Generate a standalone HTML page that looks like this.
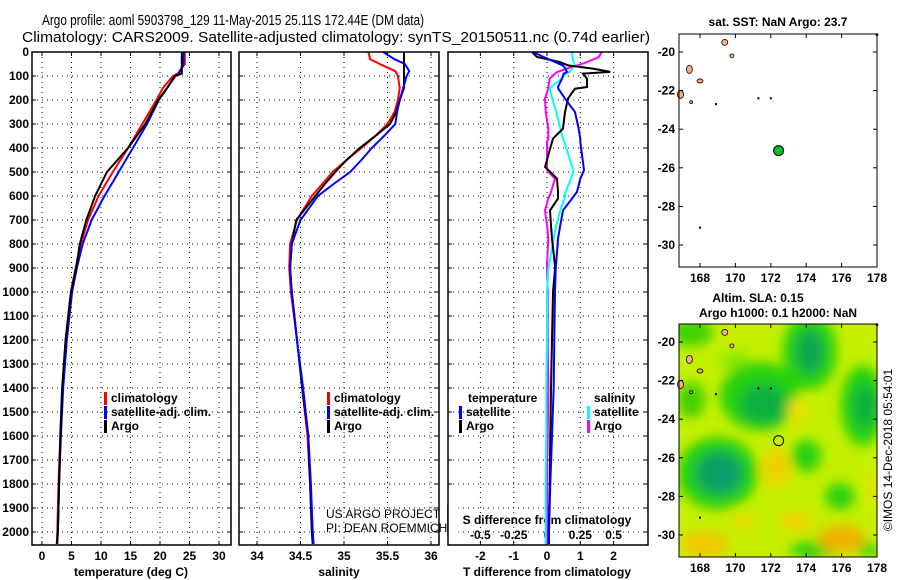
<!DOCTYPE html>
<html><head><meta charset="utf-8"><style>
body{margin:0;background:#fff;}
svg{display:block;font-family:"Liberation Sans",Arial,sans-serif;}
.b{font-weight:bold;font-size:12px;}
</style></head><body>
<svg id="c" width="900" height="580" viewBox="0 0 900 580" xmlns="http://www.w3.org/2000/svg">
<defs>
<filter id="blur" x="-50%" y="-50%" width="200%" height="200%"><feGaussianBlur stdDeviation="6"/></filter>
<clipPath id="mapclip"><rect x="679" y="324" width="198" height="233"/></clipPath>
</defs>
<text x="233" y="25" font-size="15" text-anchor="middle" textLength="382" lengthAdjust="spacingAndGlyphs">Argo profile: aoml 5903798_129 11-May-2015 25.11S 172.44E (DM data)</text>
<text x="336" y="42" font-size="15" text-anchor="middle" textLength="628" lengthAdjust="spacingAndGlyphs">Climatology: CARS2009. Satellite-adjusted climatology: synTS_20150511.nc (0.74d earlier)</text>
<g id="g"></g>
</svg>
<script>
// ---- data ----
const depthsT = [0,50,90,100,150,200,300,400,500,600,700,800,900,1000,1200,1400,1600,1800,2000,2050];
const tempArgo = [23.7,23.7,23.7,22.5,21.2,19.7,17.5,14.6,11.0,9.0,7.5,6.4,5.8,4.9,4.0,3.4,3.1,2.9,2.7,2.5];
const tempClim = [24.2,24.2,23.0,22.2,20.5,19.4,17.0,14.6,12.0,9.6,7.8,6.6,5.7,4.9,4.0,3.5,3.1,2.8,2.6,2.5];
const tempSat  = [24.0,24.0,23.2,22.6,21.2,19.8,17.8,15.4,13.0,10.6,8.4,6.9,5.9,5.1,4.2,3.6,3.2,2.9,2.7,2.6];
const depthsS = [0,30,50,80,100,150,200,250,300,350,400,450,500,550,600,700,800,900,1000,1200,1400,1600,1800,2000,2050];
const salArgo = [35.69,35.69,35.69,35.69,35.69,35.69,35.64,35.60,35.53,35.36,35.18,35.03,34.90,34.78,34.67,34.45,34.40,34.38,34.40,34.46,34.52,34.59,34.61,34.63,34.64];
const salClim = [35.28,35.30,35.41,35.59,35.62,35.64,35.62,35.58,35.50,35.36,35.20,35.03,34.87,34.75,34.63,34.46,34.38,34.37,34.39,34.46,34.52,34.58,34.61,34.64,34.65];
const salSat  = [35.45,35.58,35.70,35.75,35.72,35.68,35.64,35.61,35.59,35.46,35.32,35.20,35.07,34.88,34.70,34.50,34.40,34.38,34.40,34.46,34.53,34.59,34.62,34.64,34.65];
const depthsD = [0,21,42,56,69,83,90,111,146,153,194,250,319,361,375,479,493,528,583,611,660,722,778,889,903,1000,1200,1400,1600,1800,2000,2050];
const dTArgo = [-0.45,-0.30,0.39,0.63,1.38,1.90,1.08,1.20,1.20,0.84,0.63,0.54,0.48,0.18,0.15,-0.06,0.05,0.30,0.33,0.33,0.09,0.12,0.15,0.24,0.24,0.18,0.15,0.12,0.10,0.08,0.05,0.05];
const dTSat  = [-0.42,-0.10,0.24,0.48,0.55,0.60,0.50,0.45,0.33,0.34,0.54,0.84,0.95,1.00,1.00,1.10,1.11,1.00,0.90,0.75,0.48,0.40,0.33,0.27,0.26,0.24,0.22,0.20,0.15,0.10,0.06,0.06];
const dSSat  = [0.19,0.19,0.20,0.21,0.19,0.17,0.14,0.11,0.03,0.02,0.04,0.07,0.10,0.12,0.13,0.19,0.20,0.18,0.14,0.13,0.10,0.07,0.05,0.015,0.01,0.0,0.0,-0.005,-0.005,-0.01,-0.01,-0.01];
const dSArgo = [0.41,0.39,0.30,0.23,0.15,0.08,0.06,0.02,0.01,0.01,-0.015,-0.01,0.01,0.01,0.0,0.0,0.0,0.06,0.03,0.01,-0.015,0.0,0.01,0.0,0.0,0.005,0.005,0.01,0.005,0.0,0.0,0.0];
const depthTicks = [0,100,200,300,400,500,600,700,800,900,1000,1100,1200,1300,1400,1500,1600,1700,1800,1900,2000];
const tTicks = [0,5,10,15,20,25,30];
const sTicks = [34,34.5,35,35.5,36];
const dTTicks = [-2,-1,0,1,2];
const dSTicks = ["-0.5","-0.25","0","0.25","0.5"];
const mapLonTicks = [168,170,172,174,176,178];
const mapLatTicks = [-20,-22,-24,-26,-28,-30];
const floatLon = 172.44, floatLat = -25.11;

// ---- helpers ----
const NS="http://www.w3.org/2000/svg";
const G=document.getElementById('g');
function mk(tag,attrs,parent){const e=document.createElementNS(NS,tag);for(const k in attrs)e.setAttribute(k,attrs[k]);(parent||G).appendChild(e);return e;}
function txt(x,y,s,attrs){const e=mk('text',Object.assign({x:x,y:y},attrs||{}));e.textContent=s;return e;}
const pTop=52, pBot=545;
const yD=d=>pTop+d*0.24;
const xT=t=>42+t*5.9;
const xS=s=>257+(s-34)*87;
const xDT=v=>547+v*33.3;
const xDS=v=>547+v*133.2;
const panels=[{x0:32,x1:231,xs:tTicks.map(xT)},{x0:239,x1:439,xs:sTicks.map(xS)},{x0:448,x1:648,xs:dTTicks.map(xDT)}];
const pnames=['temperature-panel','salinity-panel','difference-panel'];
panels.forEach((p,i)=>{
  const g=mk('g',{});
  
  
  mk('rect',{x:p.x0,y:pTop,width:p.x1-p.x0,height:pBot-pTop,fill:'#fff',stroke:'none'},g);
  depthTicks.forEach(d=>{const l=mk('line',{x1:p.x0,x2:p.x1,y1:yD(d),y2:yD(d),stroke:'#000','stroke-width':1,'stroke-dasharray':'1 4'},g);
    
    mk('line',{x1:p.x0,x2:p.x0+4,y1:yD(d),y2:yD(d),stroke:'#000'},g);mk('line',{x1:p.x1-4,x2:p.x1,y1:yD(d),y2:yD(d),stroke:'#000'},g);});
  p.xs.forEach(x=>{const l=mk('line',{x1:x,x2:x,y1:pTop,y2:pBot,stroke:'#000','stroke-width':1,'stroke-dasharray':'1 4'},g);
    
    mk('line',{x1:x,x2:x,y1:pBot-4,y2:pBot,stroke:'#000'},g);mk('line',{x1:x,x2:x,y1:pTop,y2:pTop+4,stroke:'#000'},g);});
});
depthTicks.forEach(d=>{const t=txt(29,yD(d)+4,String(d),{class:'b','text-anchor':'end'});
  });
tTicks.forEach(v=>{const t=txt(xT(v),560,String(v),{class:'b','text-anchor':'middle'});});
sTicks.forEach(v=>{const t=txt(xS(v),560,String(v),{class:'b','text-anchor':'middle'});});
dTTicks.forEach(v=>{const t=txt(xDT(v),560,String(v),{class:'b','text-anchor':'middle'});});
dSTicks.forEach(v=>{const t=txt(xDS(parseFloat(v)),539,v,{class:'b','text-anchor':'middle'});});
let e;
e=txt(131,576,'temperature (deg C)',{class:'b','text-anchor':'middle'});
e=txt(339,576,'salinity',{class:'b','text-anchor':'middle'});
e=txt(547,576,'T difference from climatology',{class:'b','text-anchor':'middle'});
e=txt(547,524,'S difference from climatology',{class:'b','text-anchor':'middle'});

function line(depths,vals,xf,color,name){
  const pts=vals.map((v,i)=>xf(v).toFixed(1)+','+yD(depths[i]).toFixed(1)).join(' ');
  const l=mk('polyline',{points:pts,fill:'none',stroke:color,'stroke-width':2,'stroke-linejoin':'miter'});
  
  
}
line(depthsT,tempClim,xT,'#ff0000','temp-climatology-line');
line(depthsT,tempSat,xT,'#0000ff','temp-satellite-line');
line(depthsT,tempArgo,xT,'#000000','temp-argo-line');
line(depthsS,salClim,xS,'#ff0000','salinity-climatology-line');
line(depthsS,salArgo,xS,'#000000','salinity-argo-line');
line(depthsS,salSat,xS,'#0000ff','salinity-satellite-line');
line(depthsD,dSArgo,xDS,'#ff00ff','s-diff-argo-line');
line(depthsD,dSSat,xDS,'#00ffff','s-diff-satellite-line');
line(depthsD,dTArgo,xDT,'#000000','t-diff-argo-line');
line(depthsD,dTSat,xDT,'#0000ff','t-diff-satellite-line');
panels.forEach(p=>{mk('rect',{x:p.x0,y:pTop,width:p.x1-p.x0,height:pBot-pTop,fill:'none',stroke:'#000','stroke-width':1.5});});

function legend(x,y,color,label,name){
  const g=mk('g',{});
  
  
  mk('rect',{x:x,y:y-10,width:3,height:13,fill:color},g);
  const t=txt(x+7,y,label,{class:'b'});g.appendChild(t);
}
legend(104,402,'#ff0000','climatology','legend-temp-climatology');
legend(104,416,'#0000ff','satellite-adj. clim.','legend-temp-satellite');
legend(104,430,'#000000','Argo','legend-temp-argo');
legend(327,402,'#ff0000','climatology','legend-sal-climatology');
legend(327,416,'#0000ff','satellite-adj. clim.','legend-sal-satellite');
legend(327,430,'#000000','Argo','legend-sal-argo');
e=txt(468,402,'temperature',{class:'b'});
legend(459,416,'#0000ff','satellite','legend-tdiff-satellite');
legend(459,430,'#000000','Argo','legend-tdiff-argo');
e=txt(594,402,'salinity',{class:'b'});
legend(587,416,'#00ffff','satellite','legend-sdiff-satellite');
legend(587,430,'#ff00ff','Argo','legend-sdiff-argo');
e=txt(326,518,'US ARGO PROJECT',{'font-size':12});
e=txt(326,532,'PI: DEAN ROEMMICH',{'font-size':12});
mk('rect',{x:448.5,y:505,width:10,height:30,fill:'#fff'});
mk('line',{x1:448,x2:448,y1:505,y2:535,stroke:'#000','stroke-width':1.5});

// ---- maps ----
const mx=lon=>700+(lon-168)*17.7;
function map(y0,name,sla){
  const my=lat=>y0+18+(-20-lat)*19.3;
  const g=mk('g',{});
  
  
  mk('rect',{x:679,y:y0,width:198,height:233,fill:'#fff'},g);
  if(sla){
    const cg=mk('g',{'clip-path':'url(#mapclip)'},g);
    mk('rect',{x:679,y:y0,width:198,height:233,fill:'#c4f000'},cg);
    const bg=mk('g',{filter:'url(#blur)'},cg);
    const blobs=[
      [167.5,-19.5,22,14,'#40d000'],[167.5,-23,14,18,'#40d000'],[170,-21,16,10,'#88e800'],
      [171.4,-22.8,40,34,'#28d010'],[171.6,-23.2,24,20,'#10b040'],
      [174.2,-20.5,27,38,'#28d010'],[174.2,-20.5,14,22,'#10a850'],
      [177.2,-23.3,22,40,'#28d010'],[177.3,-23.3,12,22,'#10b040'],
      [169,-26.8,40,36,'#28d010'],[169.1,-26.8,24,22,'#10a060'],[169.3,-27,12,12,'#10a070'],
      [174,-25.9,15,16,'#28d010'],[175.9,-28,15,13,'#28d010'],[174.3,-30.8,22,9,'#30d010'],[177.5,-30.8,10,8,'#30d010'],
      [172.3,-26.5,14,20,'#f0d000'],[176,-30.2,24,14,'#f0b000'],[168.3,-30.5,24,14,'#f0c800'],[173.4,-29.3,16,10,'#f0d000'],
      [173.5,-23.6,9,14,'#f0e000'],[178,-27.5,8,18,'#e8e000'],[170.5,-29.3,12,8,'#e8d800']];
    blobs.forEach(b=>mk('ellipse',{cx:mx(b[0]),cy:my(b[1]),rx:b[2],ry:b[3],fill:b[4]},bg));
  }
  const land=[[169.4,-19.5,3,3],[169.8,-20.2,2,2],[167.4,-20.9,3,4],[168,-21.5,3,2],[166.9,-22.2,3,4],[167.5,-22.6,1.5,1.5],[178,-19.1,1,1]];
  land.forEach(l=>{const c=mk('ellipse',{cx:mx(l[0]),cy:my(l[1]),rx:l[2],ry:l[3],fill:'#f5b080',stroke:'#000','stroke-width':0.8},g);});
  [[168.9,-22.7],[171.3,-22.4],[172,-22.4],[168,-29.1]].forEach(p=>mk('rect',{x:mx(p[0])-1,y:my(p[1])-1,width:2,height:2,fill:'#000'},g));
  const fm=mk('circle',{cx:mx(floatLon),cy:my(floatLat),r:5,fill:sla?'none':'#00c030',stroke:'#000','stroke-width':1},g);
  
  mk('rect',{x:679,y:y0,width:198,height:233,fill:'none',stroke:'#000','stroke-width':1},g);
  mapLonTicks.forEach(v=>{mk('line',{x1:mx(v),x2:mx(v),y1:y0+233,y2:y0+229,stroke:'#000'},g);mk('line',{x1:mx(v),x2:mx(v),y1:y0,y2:y0+4,stroke:'#000'},g);
    const t=txt(mx(v),y0+248,String(v),{class:'b','text-anchor':'middle'});});
  mapLatTicks.forEach(v=>{mk('line',{x1:679,x2:683,y1:my(v),y2:my(v),stroke:'#000'},g);mk('line',{x1:877,x2:873,y1:my(v),y2:my(v),stroke:'#000'},g);
    const t=txt(675,my(v)+4,String(v),{class:'b','text-anchor':'end'});});
}
map(34,'sst-map',false);
map(324,'sla-map',true);
e=txt(778,26,'sat. SST: NaN Argo: 23.7',{class:'b','text-anchor':'middle'});
e=txt(758,302,'Altim. SLA: 0.15',{class:'b','text-anchor':'middle'});
e=txt(778,317,'Argo h1000: 0.1 h2000: NaN',{class:'b','text-anchor':'middle'});
e=txt(0,0,'©IMOS 14-Dec-2018 05:54:01',{'font-size':12,transform:'translate(892,450) rotate(-90)','text-anchor':'middle'});
</script>
</body></html>
